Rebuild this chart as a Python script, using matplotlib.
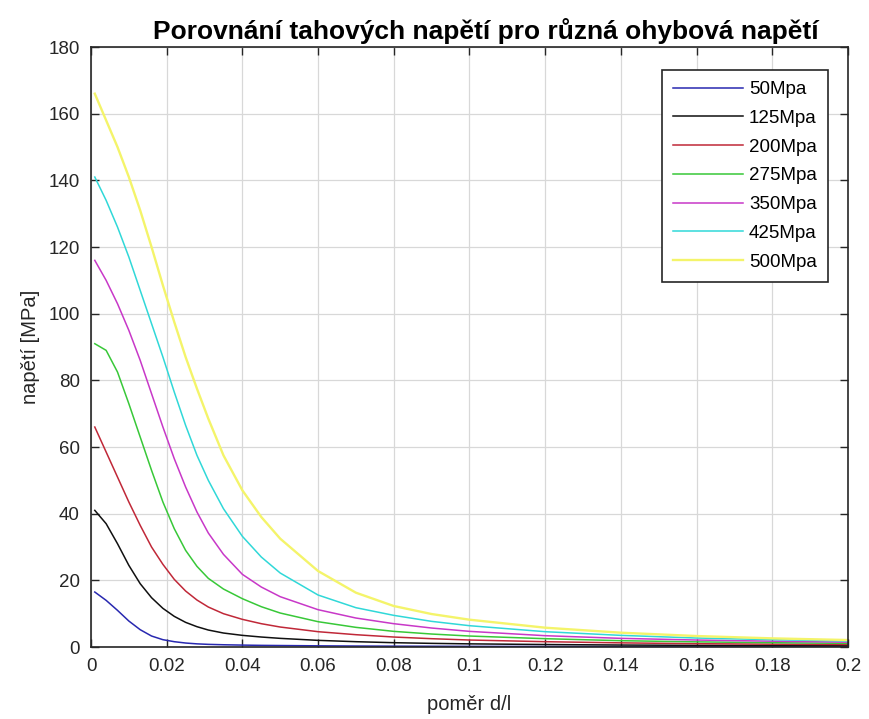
import matplotlib
matplotlib.use('Agg')
import matplotlib.pyplot as plt

plt.rcParams['font.family'] = ['Liberation Sans', 'DejaVu Sans']

# poměr d/l
x = [0.001, 0.004, 0.007, 0.01, 0.013, 0.016, 0.019, 0.022, 0.025, 0.028,
     0.031, 0.035, 0.04, 0.045, 0.05, 0.06, 0.07, 0.08, 0.09, 0.1,
     0.12, 0.14, 0.16, 0.18, 0.2]

# tahová napětí [MPa] pro jednotlivá ohybová napětí
s50 = [16.5, 14, 11, 7.8, 5.2, 3.3, 2.2, 1.6, 1.2, 0.95,
       0.8, 0.68, 0.58, 0.5, 0.45, 0.36, 0.3, 0.26, 0.23, 0.2,
       0.16, 0.13, 0.11, 0.1, 0.09]
s125 = [41, 37, 31, 24.5, 19, 14.8, 11.6, 9.2, 7.4, 6.1,
        5.1, 4.2, 3.5, 3, 2.6, 2.0, 1.6, 1.3, 1.1, 0.95,
        0.75, 0.6, 0.5, 0.42, 0.37]
s200 = [66, 58.5, 51, 43.5, 36.5, 30, 24.8, 20.3, 16.8, 14.1,
        12, 10, 8.3, 7, 6, 4.6, 3.7, 3.0, 2.5, 2.1,
        1.6, 1.25, 1.0, 0.85, 0.75]
s275 = [91, 89, 82.5, 73, 63, 53, 43.5, 35.5, 29, 24.2,
        20.6, 17.4, 14.5, 12.1, 10.2, 7.6, 5.9, 4.7, 3.9, 3.3,
        2.5, 1.9, 1.55, 1.3, 1.1]
s350 = [116, 110, 103, 95, 86, 76, 66, 56.5, 48, 40.5,
        34.2, 27.8, 21.8, 18, 15.1, 11.2, 8.7, 7, 5.7, 4.7,
        3.4, 2.6, 2.1, 1.75, 1.45]
s425 = [141, 134, 126, 117, 107, 97, 87, 76.5, 66.5, 57.5,
        50, 41.5, 33.2, 27, 22.2, 15.6, 11.8, 9.5, 7.7, 6.4,
        4.6, 3.5, 2.7, 2.2, 1.8]
s500 = [166, 158, 150, 141, 131, 120, 108.5, 97.5, 87, 77.5,
        68.5, 57.5, 47, 39, 32.5, 22.8, 16.3, 12.3, 9.9, 8.2,
        5.8, 4.3, 3.3, 2.6, 2.1]

labels = ['50Mpa', '125Mpa', '200Mpa', '275Mpa', '350Mpa', '425Mpa', '500Mpa']
series = [s50, s125, s200, s275, s350, s425, s500]
colors = ['#2828b0', '#101010', '#c02838', '#38c838', '#c838c8', '#30d8d8', '#f4f46a']

fig = plt.figure(figsize=(8.7, 7.19), dpi=100)
ax = fig.add_axes([0.1046, 0.1001, 0.870, 0.8345])

for y, lab, c in zip(series, labels, colors):
    lw = 1.7 if lab == '500Mpa' else 1.1
    ax.plot(x, y, color=c, linewidth=lw, label=lab)

ax.set_xlim(0, 0.2)
ax.set_ylim(0, 180)
ax.set_xticks([0, 0.02, 0.04, 0.06, 0.08, 0.1, 0.12, 0.14, 0.16, 0.18, 0.2])
ax.set_xticklabels(['0', '0.02', '0.04', '0.06', '0.08', '0.1', '0.12', '0.14', '0.16', '0.18', '0.2'])
ax.set_yticks(range(0, 181, 20))

ax.grid(True, color='#d8d8d8', linewidth=0.9)
ax.set_axisbelow(True)
ax.tick_params(direction='in', top=True, right=True, length=6, width=1,
               labelsize=13.5, colors='#262626', pad=8)
for sp in ax.spines.values():
    sp.set_color('#262626')
    sp.set_linewidth(1.2)

ax.set_title('Porovnání tahových napětí pro různá ohybová napětí',
             fontsize=19, fontweight='bold', pad=6, x=0.522)
ax.set_xlabel('poměr d/l', fontsize=14.5, color='#262626', labelpad=14)
ax.set_ylabel('napětí [MPa]', fontsize=14.5, color='#262626', labelpad=6)

leg = ax.legend(loc='upper right', bbox_to_anchor=(0.974, 0.962), borderaxespad=0,
                fontsize=13.5, handlelength=3.7, labelspacing=0.62, fancybox=False,
                framealpha=1, edgecolor='#262626', handletextpad=0.35, borderpad=0.6)
leg.get_frame().set_linewidth(1.2)

plt.savefig('out.png', dpi=100)
